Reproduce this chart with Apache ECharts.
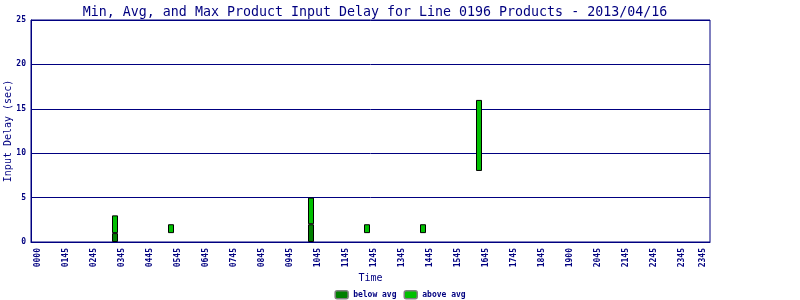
<!DOCTYPE html>
<html>
<head>
<meta charset="utf-8">
<script src="https://cdn.jsdelivr.net/npm/echarts@6/dist/echarts.min.js"></script>
<style>html,body{margin:0;padding:0;background:#fff}#c{width:800px;height:300px}</style>
</head>
<body>
<div id="c"></div>
<script>
// 15-minute time slots along the x axis (0000 .. 2415)
const timeSlots = [];
for (let m = 0; m <= 97 * 15; m += 15) {
  const h = Math.floor(m / 60), mm = m % 60;
  timeSlots.push(String(h).padStart(2, '0') + String(mm).padStart(2, '0'));
}
// x-axis tick labels (as printed on the reference) and the slots they sit on
const tickSlots = ['0015','0115','0215','0315','0415','0515','0615','0715','0815','0915','1015','1115','1215','1315','1415','1515','1615','1715','1815','1915','2015','2115','2215','2315','2400'];
const tickLabels = ['0000','0145','0245','0345','0445','0545','0645','0745','0845','0945','1045','1145','1245','1345','1445','1545','1645','1745','1845','1900','2045','2145','2245','2345','2345'];

// product delay data
const barTimes = ['0300','0500','1000','1200','1400','1600'];
const minDelay = [0, 1, 0, 1, 1, 8];
const avgDelay = [1, 1, 2, 1, 1, 8];
const maxDelay = [3, 2, 5, 2, 2, 16];

const navy = '#000080';
const font = 'DejaVu Sans Mono';

const n = timeSlots.length;
const baseData = new Array(n).fill(null);
const belowData = new Array(n).fill(null);
const aboveData = new Array(n).fill(null);
barTimes.forEach((t, i) => {
  const idx = timeSlots.indexOf(t);
  baseData[idx] = minDelay[i];
  belowData[idx] = avgDelay[i] - minDelay[i] > 0 ? avgDelay[i] - minDelay[i] : null;
  aboveData[idx] = maxDelay[i] - avgDelay[i] > 0 ? maxDelay[i] - avgDelay[i] : null;
});
const tickMap = {};
tickSlots.forEach((s, i) => { tickMap[timeSlots.indexOf(s)] = tickLabels[i]; });

const chart = echarts.init(document.getElementById('c'), null, {renderer: 'canvas'});
chart.setOption({
  animation: false,
  backgroundColor: '#ffffff',
  title: {
    text: 'Min, Avg, and Max Product Input Delay for Line 0196 Products - 2013/04/16',
    left: 370, top: 1, textAlign: 'center',
    textStyle: {fontFamily: font, fontSize: 13.3, fontWeight: 'normal', color: navy}
  },
  legend: {
    data: ['below avg', 'above avg'],
    left: 'center', top: 290, padding: 0,
    itemWidth: 13, itemHeight: 8, itemGap: 7,
    itemStyle: {borderColor: '#808080', borderWidth: 1.5},
    textStyle: {fontFamily: font, fontSize: 8, fontWeight: 'bold', color: navy}
  },
  grid: {left: 31, right: 90, top: 20, bottom: 58, outerBoundsMode: 'none', containLabel: false,
         show: true, borderColor: navy, borderWidth: 1, backgroundColor: 'transparent'},
  xAxis: {
    type: 'category', data: timeSlots, boundaryGap: false,
    name: 'Time', nameLocation: 'middle', nameGap: 31, nameMoveOverlap: false,
    nameTextStyle: {fontFamily: font, fontSize: 10, color: navy},
    axisLine: {lineStyle: {color: navy, width: 1}},
    axisTick: {show: false},
    axisLabel: {
      rotate: 90, interval: 0, margin: 6,
      fontFamily: font, fontSize: 8, fontWeight: 'bold', color: navy,
      formatter: (v, i) => (tickMap[i] !== undefined ? tickMap[i] : '')
    },
    splitLine: {show: false}
  },
  yAxis: {
    type: 'value', min: 0, max: 25, interval: 5,
    name: 'Input Delay (sec)', nameLocation: 'middle', nameRotate: 90, nameGap: 18, nameMoveOverlap: false,
    nameTextStyle: {fontFamily: font, fontSize: 10, color: navy},
    axisLine: {show: true, lineStyle: {color: navy, width: 1}},
    axisTick: {show: false},
    axisLabel: {fontFamily: font, fontSize: 8, fontWeight: 'bold', color: navy, margin: 5},
    splitLine: {show: true, lineStyle: {color: navy, width: 1}}
  },
  series: [
    {name: 'base', type: 'bar', stack: 'd', data: baseData, barWidth: 6,
     itemStyle: {color: 'transparent'}, silent: true},
    {name: 'below avg', type: 'bar', stack: 'd', data: belowData, barWidth: 6,
     itemStyle: {color: '#008000', borderColor: '#000000', borderWidth: 1, borderRadius: 0}},
    {name: 'above avg', type: 'bar', stack: 'd', data: aboveData, barWidth: 6,
     itemStyle: {color: '#00c000', borderColor: '#000000', borderWidth: 1, borderRadius: 0}}
  ]
});
</script>
</body>
</html>
